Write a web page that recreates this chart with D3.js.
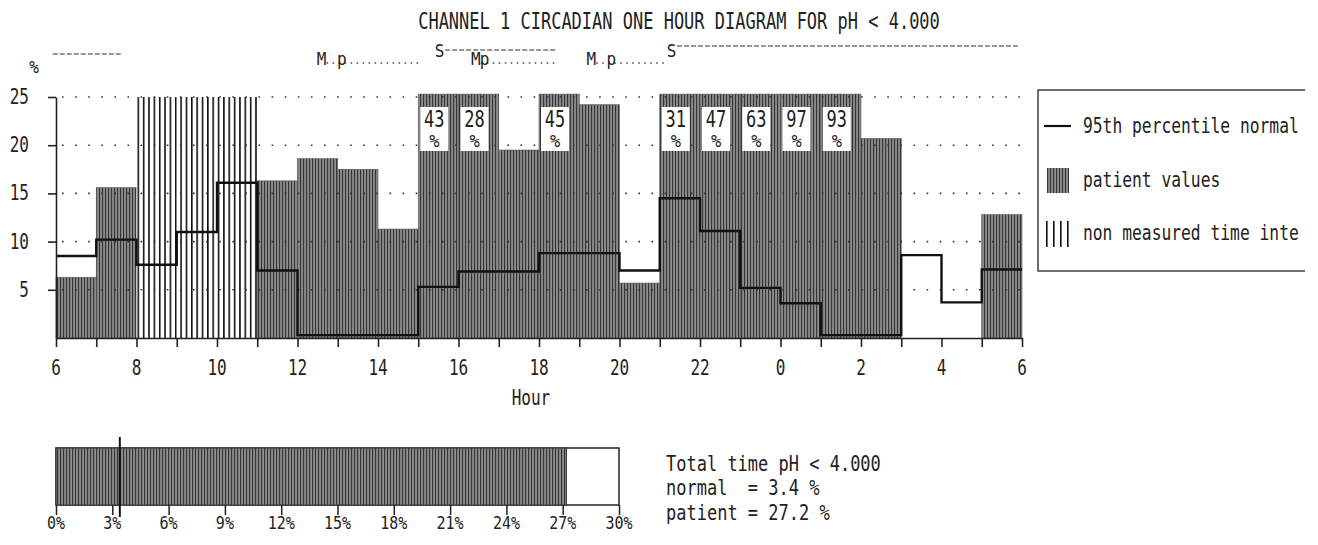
<!DOCTYPE html>
<html>
<head>
<meta charset="utf-8">
<script src="https://cdn.jsdelivr.net/npm/d3@7"></script>
<style>
  html, body { margin: 0; padding: 0; background: #fff; }
  svg { display: block; }
  text { font-family: "DejaVu Sans Mono", "Liberation Mono", monospace; white-space: pre; }
</style>
</head>
<body>
<svg id="chart" width="1318" height="545"></svg>
<script>
// ---------------- data ----------------
// hours since 06:00, one bar per hour
const hourTicks = [0, 2, 4, 6, 8, 10, 12, 14, 16, 18, 20, 22, 24];
const hourLabels = ["6", "8", "10", "12", "14", "16", "18", "20", "22", "0", "2", "4", "6"];
// patient % time pH<4 per hour (null = non measured time interval)
const patientValues = [6.3, 15.6, null, null, null, 16.3, 18.6, 17.5, 11.3, 43, 28, 19.5,
                       45, 24.2, 5.7, 31, 47, 63, 97, 93, 20.7, 0, 0, 12.8];
// 95th percentile normal per hour
const normalValues = [8.5, 10.2, 7.6, 11.0, 16.1, 7.0, 0.3, 0.3, 0.3, 5.3, 6.9, 6.9,
                      8.8, 8.8, 7.0, 14.5, 11.1, 5.2, 3.6, 0.3, 0.3, 8.6, 3.7, 7.1];
const yTicks = [5, 10, 15, 20, 25];
// activity markers (hours since 06:00)
const supineStart = [-0.08, 9.42, 15.18];
const supineEnd = [1.65, 12.45, 23.95];
const supineLabel = ["", "S", "S"];
const mealStart = [6.5, 10.33, 13.2];
const mealPost = [7.0, 10.55, 13.7];
const mealEnd = [9.0, 12.45, 15.1];
// summary
const totalTicks = [0, 3, 6, 9, 12, 15, 18, 21, 24, 27, 30];
const totalNormal = 3.4;
const totalPatient = 27.2;
const legendLabels = ["95th percentile normal", "patient values", "non measured time inte"];

// ---------------- setup ----------------
const svg = d3.select("#chart");
svg.append("rect").attr("width", 1318).attr("height", 545).attr("fill", "#fff");
const INK = "#222";

function T(parent, x, y, s, o = {}) {
  const size = o.size || 16, sy = o.sy || 1.25;
  return parent.append("text")
    .attr("transform", `translate(${x},${y}) scale(1,${sy})`)
    .attr("font-size", size)
    .attr("text-anchor", o.anchor || "start")
    .attr("fill", o.fill || INK)
    .text(s);
}

const defs = svg.append("defs");
const pat = defs.append("pattern").attr("id", "patient")
  .attr("patternUnits", "userSpaceOnUse").attr("width", 3).attr("height", 10);
pat.append("rect").attr("width", 3).attr("height", 10).attr("fill", "#8a8a8a");
pat.append("rect").attr("width", 1.1).attr("height", 10).attr("fill", "#353535");

const nm = defs.append("pattern").attr("id", "nonmeas")
  .attr("patternUnits", "userSpaceOnUse").attr("width", 5.35).attr("height", 10)
  .attr("x", 56 + 2 * 40.25 + 1);
nm.append("rect").attr("width", 5.35).attr("height", 10).attr("fill", "#fff");
nm.append("rect").attr("width", 1.6).attr("height", 10).attr("fill", "#111");

const x = d3.scaleLinear().domain([0, 24]).range([56, 1022]);
const y = d3.scaleLinear().domain([0, 25]).range([338, 97]);
const CAP = 25.3;

// ---------------- title ----------------
T(svg, 679, 29, "CHANNEL 1 CIRCADIAN ONE HOUR DIAGRAM FOR pH < 4.000", {size: 17, anchor: "middle", sy: 1.3});

// ---------------- markers ----------------
const mk = svg.append("g");
supineStart.forEach((s, i) => {
  const yy = i === 2 ? 46 : (i === 0 ? 54 : 50);
  const x0 = supineLabel[i] ? x(s) + 10 : x(s);
  mk.append("line").attr("x1", x0).attr("x2", x(supineEnd[i])).attr("y1", yy).attr("y2", yy)
    .attr("stroke", "#333").attr("stroke-width", 1.2).attr("stroke-dasharray", "5,2");
  if (supineLabel[i]) T(mk, x(s) + 4.5, 57, supineLabel[i], {size: 16, anchor: "middle", sy: 1.15});
});
mealStart.forEach((m, i) => {
  mk.append("line").attr("x1", x(m) + 9).attr("x2", x(mealEnd[i])).attr("y1", 63).attr("y2", 63)
    .attr("stroke", "#444").attr("stroke-width", 1.3).attr("stroke-dasharray", "1.5,4.5");
  T(mk, x(m) + 4, 65, "M", {size: 16, anchor: "middle", sy: 1.1});
  T(mk, x(mealPost[i]) + 4, 65, "p", {size: 16, anchor: "middle", sy: 1.1});
});

// ---------------- bars ----------------
const bars = svg.append("g");
patientValues.forEach((v, i) => {
  if (v === null) {
    bars.append("rect").attr("x", x(i)).attr("width", x(i + 1) - x(i))
      .attr("y", y(25)).attr("height", y(0) - y(25)).attr("fill", "url(#nonmeas)");
  } else if (v > 0) {
    const vv = Math.min(v, CAP);
    bars.append("rect").attr("x", x(i)).attr("width", x(i + 1) - x(i))
      .attr("y", y(vv)).attr("height", y(0) - y(vv)).attr("fill", "url(#patient)")
      .attr("stroke", "#555").attr("stroke-width", 0.6);
  }
});

// grid lines
const grid = svg.append("g");
yTicks.forEach(t => {
  grid.append("line").attr("x1", 62).attr("x2", 1024).attr("y1", y(t)).attr("y2", y(t))
    .attr("stroke", "#333").attr("stroke-width", 1.6).attr("stroke-dasharray", "1.6,11.5");
});

// labels for values over scale
const lab = svg.append("g");
patientValues.forEach((v, i) => {
  if (v !== null && v > 25) {
    lab.append("rect").attr("x", x(i) + 2).attr("y", y(25) + 10).attr("width", 28).attr("height", 44)
      .attr("fill", "#fff");
    T(lab, x(i) + 16, y(25) + 30, String(v), {size: 17, anchor: "middle", sy: 1.3});
    T(lab, x(i) + 16, y(25) + 50, "%", {size: 17, anchor: "middle", sy: 1.0});
  }
});

// normal step line
const stepPts = normalValues.map((v, i) => [i, v]).concat([[24, normalValues[23]]]);
svg.append("path").datum(stepPts)
  .attr("d", d3.line().x(d => x(d[0])).y(d => y(d[1])).curve(d3.curveStepAfter))
  .attr("fill", "none").attr("stroke", "#111").attr("stroke-width", 2.4);

// axes
const xAxis = svg.append("g").attr("transform", `translate(0,${y(0)})`)
  .call(d3.axisBottom(x).tickValues(d3.range(0, 25)).tickSize(9).tickSizeOuter(0).tickFormat(""));
xAxis.select(".domain").attr("stroke", "#222").attr("stroke-width", 1.6);
xAxis.selectAll(".tick line").attr("stroke", "#222").attr("stroke-width", 1.6);
hourTicks.forEach((h, i) => T(svg, x(h), 375, hourLabels[i], {size: 16, anchor: "middle", sy: 1.28}));
T(svg, 531, 405, "Hour", {size: 16, anchor: "middle", sy: 1.28});

const yAxis = svg.append("g").attr("transform", `translate(${x(0)},0)`)
  .call(d3.axisLeft(y).tickValues(yTicks).tickSize(8).tickSizeOuter(0).tickFormat(""));
yAxis.select(".domain").attr("stroke", "#222").attr("stroke-width", 1.6);
yAxis.selectAll(".tick line").attr("stroke", "#222").attr("stroke-width", 1.6);
yTicks.forEach(t => T(svg, 29, y(t) + 7, String(t), {size: 16, anchor: "end", sy: 1.28}));
T(svg, 34, 73, "%", {size: 16, anchor: "middle", sy: 1.05});

// ---------------- legend ----------------
defs.append("clipPath").attr("id", "legclip").append("rect")
  .attr("x", 1030).attr("y", 80).attr("width", 275).attr("height", 200);
const leg = svg.append("g");
leg.append("rect").attr("x", 1038).attr("y", 90).attr("width", 300).attr("height", 181)
  .attr("clip-path", "url(#legclip)")
  .attr("fill", "#fff").attr("stroke", "#333").attr("stroke-width", 1.4);
leg.append("line").attr("x1", 1044).attr("x2", 1071).attr("y1", 126).attr("y2", 126)
  .attr("stroke", "#111").attr("stroke-width", 2.2);
leg.append("rect").attr("x", 1047).attr("y", 168).attr("width", 22).attr("height", 25)
  .attr("fill", "url(#patient)");
[1046, 1053, 1060, 1067].forEach(xx =>
  leg.append("rect").attr("x", xx).attr("y", 221).attr("width", 1.6).attr("height", 26).attr("fill", "#111"));
T(leg, 1083, 133, legendLabels[0], {size: 16.3, sy: 1.3});
T(leg, 1083, 187, legendLabels[1], {size: 16.3, sy: 1.3});
T(leg, 1083, 240, legendLabels[2], {size: 16.3, sy: 1.3});

// ---------------- total time bar ----------------
const p = d3.scaleLinear().domain([0, 30]).range([56, 619]);
const tb = svg.append("g");
tb.append("rect").attr("x", p(0)).attr("y", 448).attr("width", p(30) - p(0)).attr("height", 57)
  .attr("fill", "#fff").attr("stroke", "#222").attr("stroke-width", 1.5);
tb.append("rect").attr("x", p(0)).attr("y", 448).attr("width", p(totalPatient) - p(0)).attr("height", 57)
  .attr("fill", "url(#patient)").attr("stroke", "#333").attr("stroke-width", 1);
const pAxis = tb.append("g").attr("transform", "translate(0,505)")
  .call(d3.axisBottom(p).tickValues(totalTicks).tickSize(10).tickSizeOuter(0).tickFormat(""));
pAxis.select(".domain").remove();
pAxis.selectAll(".tick line").attr("stroke", "#222").attr("stroke-width", 1.5);
totalTicks.forEach(t => T(tb, p(t), 529, t + "%", {size: 15, anchor: "middle", sy: 1.2}));
tb.append("line").attr("x1", p(totalNormal)).attr("x2", p(totalNormal)).attr("y1", 437).attr("y2", 517)
  .attr("stroke", "#111").attr("stroke-width", 2);

T(svg, 666, 471, "Total time pH < 4.000", {size: 17, sy: 1.22});
T(svg, 666, 495, "normal  = " + totalNormal + " %", {size: 17, sy: 1.22});
T(svg, 666, 520, "patient = " + totalPatient + " %", {size: 17, sy: 1.22});
</script>
</body>
</html>
